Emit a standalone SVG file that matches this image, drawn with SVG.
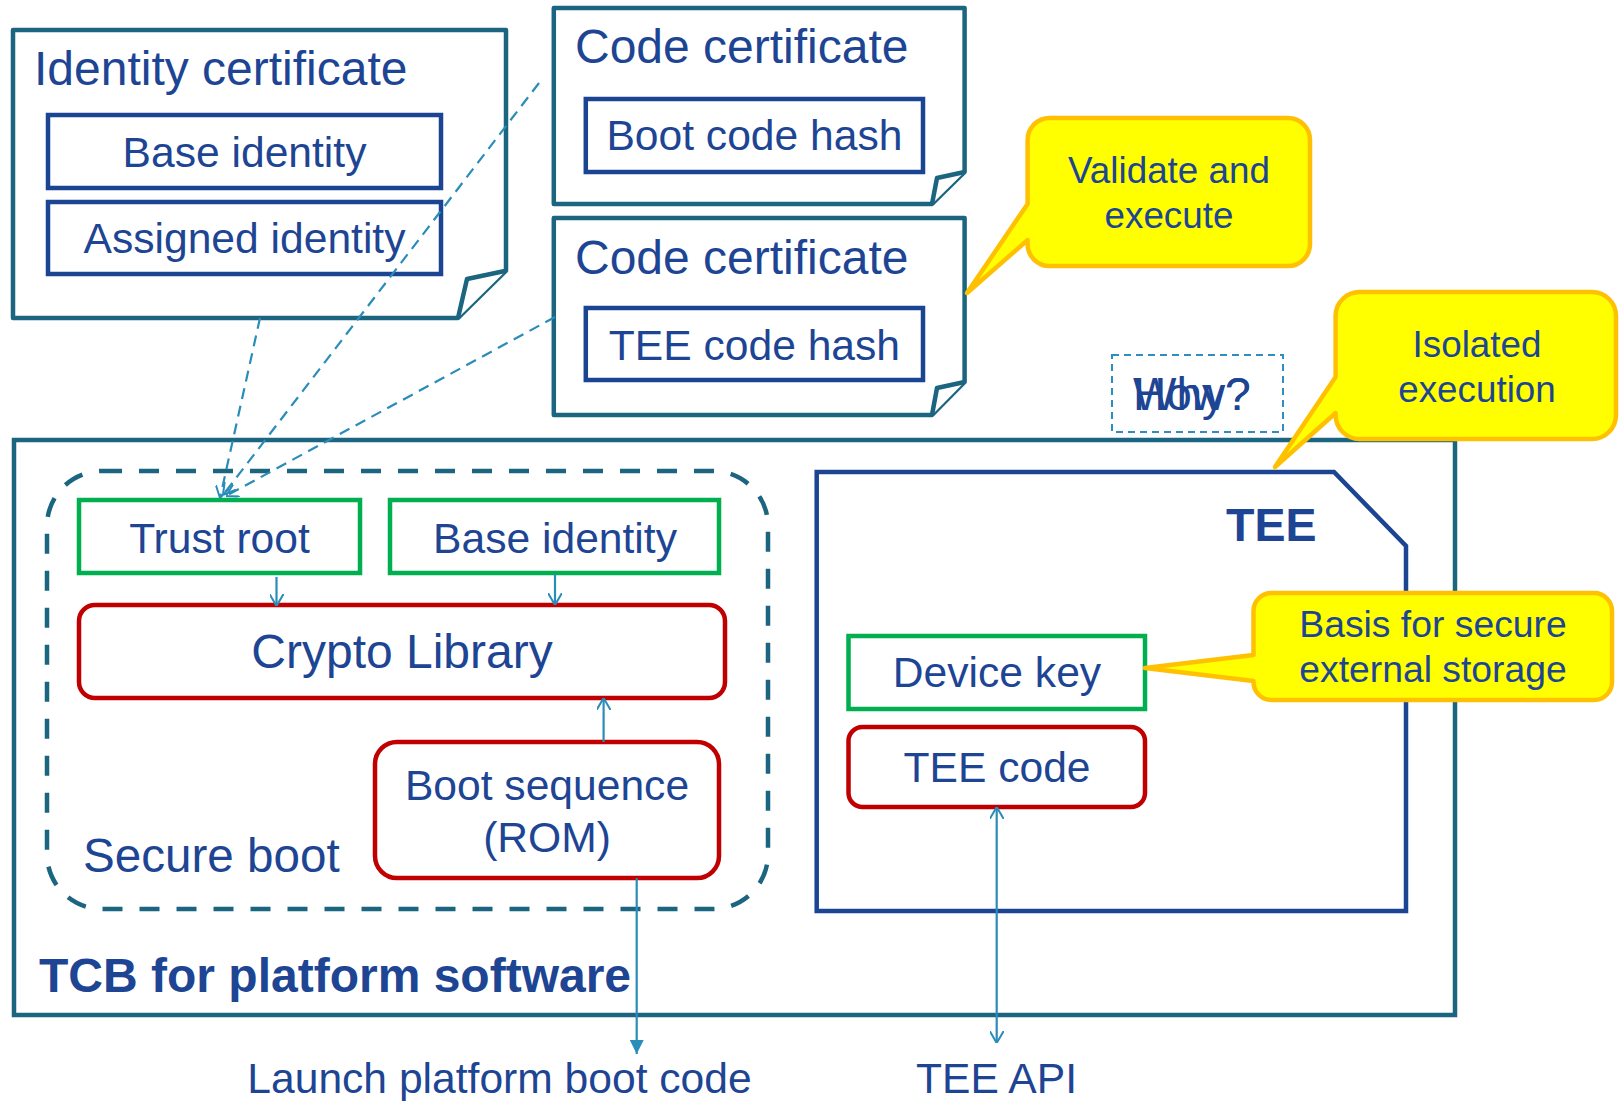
<svg xmlns="http://www.w3.org/2000/svg" width="1619" height="1101" viewBox="0 0 1619 1101">
<defs>
<style>
text{font-family:"Liberation Sans",Arial,sans-serif;fill:#1D4594}
.t{font-size:48px}
.b{font-size:42.6px;text-anchor:middle}
.c{font-size:36.8px;text-anchor:middle}
.bold{font-weight:bold}
.frame{fill:#fff;stroke:#1C6580;stroke-width:4.5;stroke-linejoin:round}
.blue{fill:#fff;stroke:#1B4593;stroke-width:4.5}
.green{fill:#fff;stroke:#00B050;stroke-width:4.5}
.red{fill:#fff;stroke:#C00000;stroke-width:4.5}
.callout{fill:#FFFF00;stroke:#FFC000;stroke-width:4.5;stroke-linejoin:round}
.con{fill:none;stroke:#2A8CB9;stroke-width:2.2}
.dash{stroke-dasharray:11 7}
</style>
<marker id="open" viewBox="0 0 12 14" refX="12" refY="7" markerWidth="12" markerHeight="14" markerUnits="userSpaceOnUse" orient="auto-start-reverse">
<path d="M0,0 L12,7 L0,14" fill="none" stroke="#2A8CB9" stroke-width="2"/>
</marker>
<marker id="filled" viewBox="0 0 14 14" refX="14" refY="7" markerWidth="14" markerHeight="14" markerUnits="userSpaceOnUse" orient="auto">
<path d="M0,0 L14,7 L0,14 Z" fill="#2A8CB9"/>
</marker>
</defs>
<rect width="1619" height="1101" fill="#fff"/>

<g id="tcb">
<rect x="14" y="440" width="1441" height="575" fill="none" stroke="#1C6580" stroke-width="4.5"/>
<text x="39" y="992" class="t bold">TCB for platform software</text>
</g>

<g id="secure-boot">
<rect x="47" y="471" width="721" height="438" rx="55" ry="55" fill="none" stroke="#1C6580" stroke-width="4.5" stroke-dasharray="20 17"/>
<text x="83" y="872" class="t" style="font-size:47.6px">Secure boot</text>
</g>

<g id="identity-cert">
<path class="frame" d="M13,30 H506 V270.7 L458,318 H13 Z"/>
<path class="frame" d="M458,318 L467,279 L506,270.7" fill="none"/>
<text x="34" y="85" class="t">Identity certificate</text>
<rect class="blue" x="48" y="115" width="393" height="73"/>
<text x="244.5" y="167" class="b">Base identity</text>
<rect class="blue" x="48" y="202" width="393" height="72"/>
<text x="244.5" y="253" class="b">Assigned identity</text>
</g>

<g id="code-cert-boot">
<path class="frame" d="M553.8,8 H964.6 V172 L932,204 H553.8 Z"/>
<path class="frame" d="M932,204 L937,178 L964.6,172" fill="none"/>
<text x="575" y="63" class="t">Code certificate</text>
<rect class="blue" x="585.8" y="99" width="337.2" height="73"/>
<text x="754.4" y="150" class="b">Boot code hash</text>
</g>

<g id="code-cert-tee">
<path class="frame" d="M553.8,218 H964.6 V382 L932,415 H553.8 Z"/>
<path class="frame" d="M932,415 L937,388 L964.6,382" fill="none"/>
<text x="575" y="274" class="t">Code certificate</text>
<rect class="blue" x="585.8" y="308" width="337.2" height="72"/>
<text x="754.4" y="360" class="b">TEE code hash</text>
</g>

<g id="trust-root">
<rect class="green" x="79" y="500" width="281" height="73"/>
<text x="219.5" y="553" class="b">Trust root</text>
</g>

<g id="base-identity">
<rect class="green" x="390" y="500" width="329" height="73"/>
<text x="555" y="553" class="b">Base identity</text>
</g>

<g id="crypto-library">
<rect class="red" x="79" y="605" width="646" height="93" rx="16" ry="16"/>
<text x="402" y="668" class="t" text-anchor="middle">Crypto Library</text>
</g>

<g id="boot-sequence">
<rect class="red" x="375" y="742" width="344" height="136" rx="22" ry="22"/>
<text x="547" y="800" class="b">Boot sequence</text>
<text x="547" y="852" class="b">(ROM)</text>
</g>

<g id="tee">
<path class="blue" d="M816.7,472 H1334 L1406,546 V911 H816.7 Z"/>
<text x="1226" y="541" class="bold" style="font-size:46.5px">TEE</text>
</g>

<g id="device-key">
<rect class="green" x="848.5" y="636" width="296.5" height="73"/>
<text x="997" y="687" class="b">Device key</text>
</g>

<g id="tee-code">
<rect class="red" x="848.5" y="727" width="296.5" height="80" rx="14" ry="14"/>
<text x="997" y="782" class="b">TEE code</text>
</g>

<g id="why-how">
<rect x="1112" y="355" width="171" height="77" fill="none" stroke="#2E8FBF" stroke-width="2" stroke-dasharray="7 5"/>
<text x="1133" y="410" style="font-size:46px">Why?</text>
<text x="1133" y="410" style="font-size:46px">How?</text>
</g>

<g id="launch-label">
<text x="499.5" y="1093" class="b">Launch platform boot code</text>
</g>

<g id="tee-api-label">
<text x="996.5" y="1093" class="b">TEE API</text>
</g>

<g id="connectors">
<path class="con dash" d="M260,318 L220,498" marker-end="url(#open)"/>
<path class="con dash" d="M539,83 L223,495" marker-end="url(#open)"/>
<path class="con dash" d="M555,317 L226,496" marker-end="url(#open)"/>
<path class="con" d="M276.5,577 L276.5,606" marker-end="url(#open)"/>
<path class="con" d="M555,574 L555,605" marker-end="url(#open)"/>
<path class="con" d="M603.6,742 L603.6,698" marker-end="url(#open)"/>
<path class="con" d="M636.7,878 L636.7,1054" marker-end="url(#filled)"/>
<path class="con" d="M996.7,807 L996.7,1043" marker-start="url(#open)" marker-end="url(#open)"/>
</g>

<g id="callout-validate">
<path class="callout" d="M1049.6,118 H1288 A22,22 0 0 1 1310,140 V244 A22,22 0 0 1 1288,266 H1049.6 A22,22 0 0 1 1027.6,244 V240 L967,293 L1027.6,204 V140 A22,22 0 0 1 1049.6,118 Z"/>
<text x="1169" y="183" class="c">Validate and</text>
<text x="1169" y="228" class="c">execute</text>
</g>

<g id="callout-isolated">
<path class="callout" d="M1359.6,292 H1592 A24,24 0 0 1 1616,316 V415 A24,24 0 0 1 1592,439 H1359.6 A24,24 0 0 1 1335.6,415 V413 L1275,467 L1335.6,377 V316 A24,24 0 0 1 1359.6,292 Z"/>
<text x="1477" y="357" class="c">Isolated</text>
<text x="1477" y="402" class="c">execution</text>
</g>

<g id="callout-basis">
<path class="callout" d="M1271.5,593 H1594 A18,18 0 0 1 1612,611 V682 A18,18 0 0 1 1594,700 H1271.5 A18,18 0 0 1 1253.5,682 V681 L1145,668 L1253.5,655 V611 A18,18 0 0 1 1271.5,593 Z"/>
<text x="1433" y="637" class="c" style="font-size:37.3px">Basis for secure</text>
<text x="1433" y="682" class="c" style="font-size:37.3px">external storage</text>
</g>
</svg>
